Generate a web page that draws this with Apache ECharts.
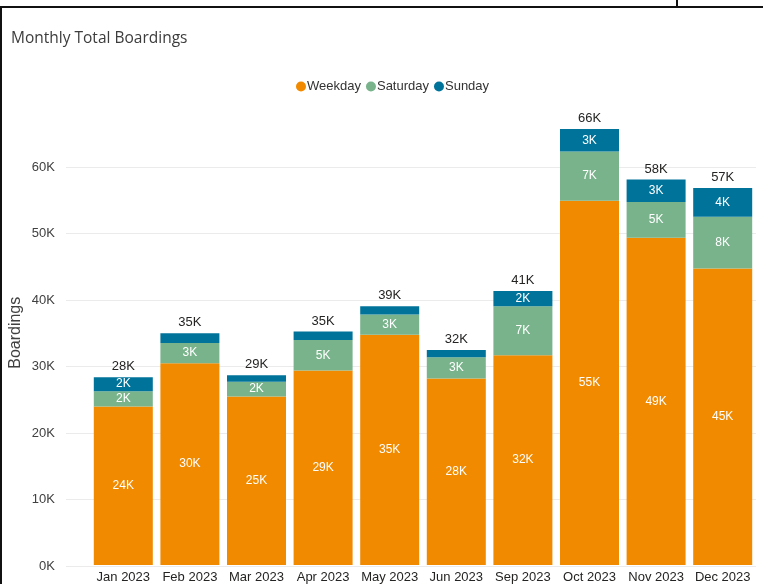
<!DOCTYPE html>
<html>
<head>
<meta charset="utf-8">
<script src="https://cdn.jsdelivr.net/npm/echarts@6/dist/echarts.min.js"></script>
<style>
    body { margin: 0; background: #ffffff; }
    .boardingsChart { width: 763px; height: 584px; position: absolute; left: 0; top: 0; }
    .frame { position: absolute; left: 0; top: 6px; width: 763px; height: 578px;
        border-top: 2px solid #111; border-left: 2px solid #111; box-sizing: border-box; pointer-events: none; }
    .tick { position: absolute; left: 676px; top: 0; width: 2px; height: 7px; background: #111; }
</style>
</head>
<body>
<div id="boardingsChart" class="boardingsChart"></div>
<div class="frame"></div>
<div class="tick"></div>
<script>
// values (boardings per month)
let months = ['Jan 2023', 'Feb 2023', 'Mar 2023', 'Apr 2023', 'May 2023', 'Jun 2023', 'Sep 2023', 'Oct 2023', 'Nov 2023', 'Dec 2023']
let weekday = [23900, 30400, 25400, 29300, 34700, 28100, 31600, 54900, 49300, 44700]
let saturday = [2300, 3050, 2200, 4600, 3050, 3200, 7400, 7400, 5400, 7800]
let sunday = [2100, 1460, 1000, 1300, 1250, 1100, 2300, 3400, 3400, 4300]
let yTicks = [0, 10000, 20000, 30000, 40000, 50000, 60000]

let colors = {
    weekday: '#F28A00',
    saturday: '#79B38B',
    sunday: '#00739A'
}

let font = 'Liberation Sans, Arial, sans-serif'

function kLabel(v) {
    return Math.round(v / 1000) + 'K'
}

let totals = []
for (let i = 0; i < months.length; i++) {
    totals.push(weekday[i] + saturday[i] + sunday[i])
}

let chart = echarts.init(document.getElementById('boardingsChart'))

let insideLabel = {
    show: true,
    position: 'inside',
    color: '#ffffff',
    fontSize: 12,
    fontFamily: font
}

let options = {
    backgroundColor: '#ffffff',
    animation: false,
    title: {
        text: 'Monthly Total Boardings',
        left: 6,
        top: 26,
        textStyle: {
            fontSize: 15.5,
            fontWeight: 'normal',
            color: '#3c3c3c',
            fontFamily: 'Open Sans, Liberation Sans, sans-serif'
        }
    },
    legend: {
        data: ['Weekday', 'Saturday', 'Sunday'],
        left: 291,
        top: 75,
        icon: 'circle',
        itemWidth: 10,
        itemHeight: 10,
        itemGap: 5,
        textStyle: {
            fontSize: 13,
            color: '#333333',
            padding: [0, 0, 0, -4],
            fontFamily: font
        }
    },
    grid: [
        // only for the value labels and gridlines
        { left: 66, right: 7, top: 167, bottom: 18 },
        // the bars, same scale, extra room above 60K
        { left: 88, right: 7, top: 100.5, bottom: 18 }
    ],
    xAxis: [
        { type: 'value', gridIndex: 0, show: false, min: 0, max: 1 },
        {
            type: 'category',
            gridIndex: 1,
            data: months,
            axisLine: { show: false },
            axisTick: { show: false },
            axisLabel: {
                interval: 0,
                margin: 6,
                fontSize: 13,
                color: '#252423',
                fontFamily: font
            }
        }
    ],
    yAxis: [
        {
            type: 'value',
            gridIndex: 0,
            min: yTicks[0],
            max: yTicks[yTicks.length - 1],
            interval: 10000,
            axisLine: { show: false },
            axisTick: { show: false },
            axisLabel: {
                margin: 11,
                fontSize: 13,
                color: '#404040',
                fontFamily: font,
                formatter: v => (v / 1000) + 'K'
            },
            splitLine: { lineStyle: { color: '#ebebeb', width: 1 } }
        },
        {
            type: 'value',
            gridIndex: 1,
            min: 0,
            max: 70000,
            interval: 10000,
            name: 'Boardings',
            nameLocation: 'middle',
            nameGap: 66,
            nameTextStyle: {
                fontSize: 16,
                color: '#404040',
                fontFamily: font
            },
            axisLine: { show: false },
            axisTick: { show: false },
            axisLabel: { show: false },
            splitLine: { show: false }
        }
    ],
    series: [
        {
            name: 'Total',
            type: 'bar',
            xAxisIndex: 1,
            yAxisIndex: 1,
            barWidth: 59,
            barGap: '-100%',
            silent: true,
            z: 1,
            itemStyle: { color: 'rgba(0,0,0,0)' },
            label: {
                show: true,
                position: 'top',
                distance: 4,
                color: '#252423',
                fontSize: 13,
                fontFamily: font,
                formatter: p => kLabel(p.value)
            },
            data: totals
        },
        {
            name: 'Weekday',
            type: 'bar',
            stack: 'Total',
            xAxisIndex: 1,
            yAxisIndex: 1,
            barWidth: 59,
            z: 2,
            itemStyle: { color: colors.weekday },
            label: Object.assign({}, insideLabel, { formatter: p => kLabel(p.value) }),
            data: weekday
        },
        {
            name: 'Saturday',
            type: 'bar',
            stack: 'Total',
            xAxisIndex: 1,
            yAxisIndex: 1,
            barWidth: 59,
            z: 2,
            itemStyle: { color: colors.saturday },
            label: Object.assign({}, insideLabel, { formatter: p => kLabel(p.value) }),
            data: saturday
        },
        {
            name: 'Sunday',
            type: 'bar',
            stack: 'Total',
            xAxisIndex: 1,
            yAxisIndex: 1,
            barWidth: 59,
            z: 2,
            itemStyle: { color: colors.sunday },
            // thin segments get no label
            label: Object.assign({}, insideLabel, { formatter: p => p.value >= 1800 ? kLabel(p.value) : '' }),
            data: sunday
        }
    ]
}

chart.setOption(options)
</script>
</body>
</html>
